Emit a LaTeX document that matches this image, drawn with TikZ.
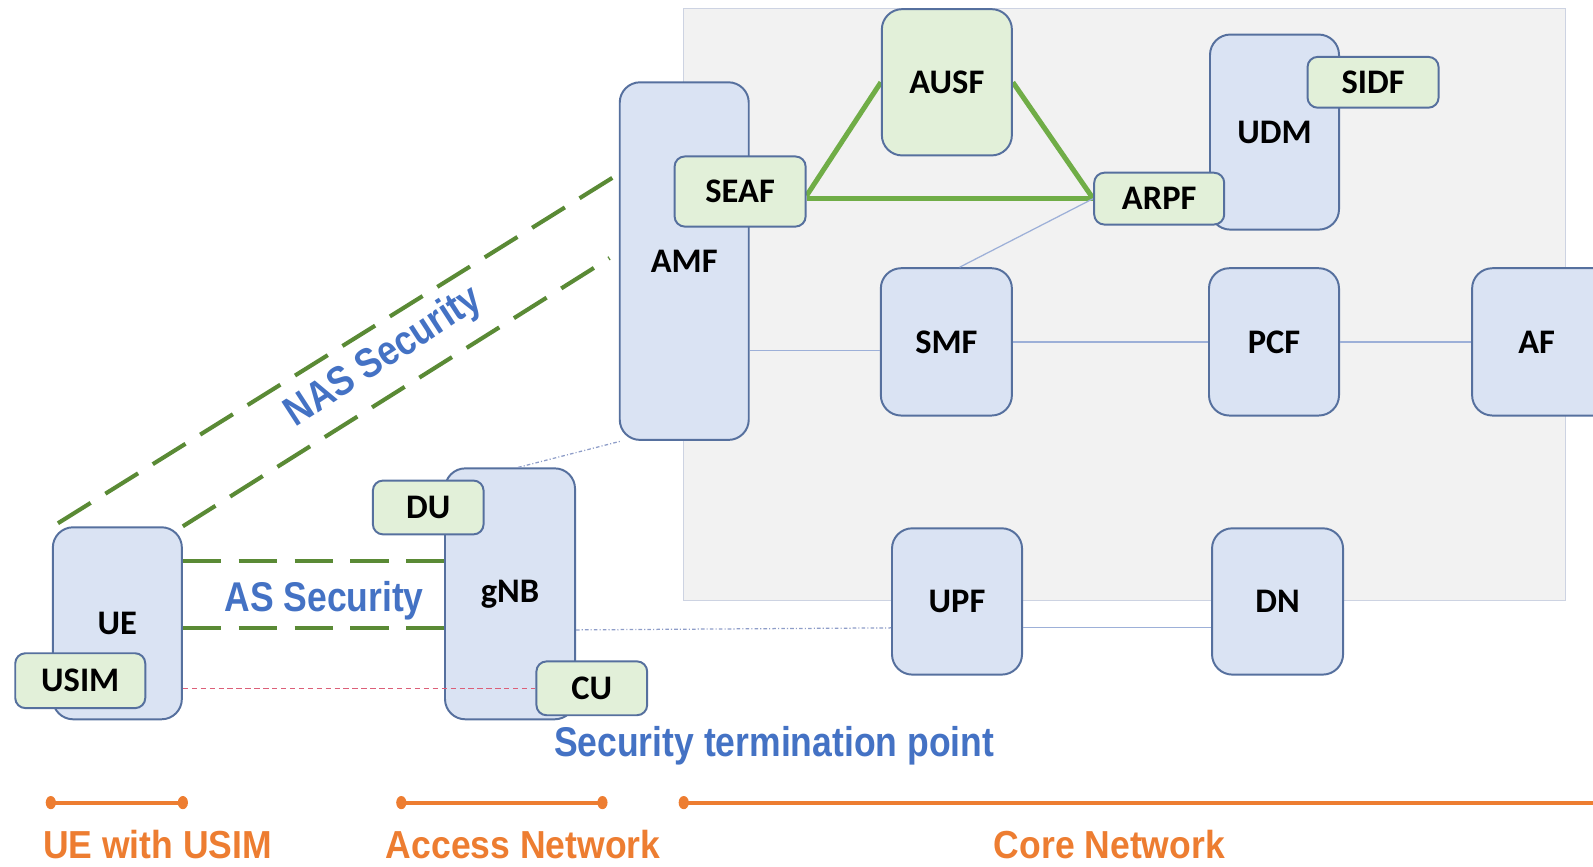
\documentclass[tikz,border=0pt]{standalone}
\usepackage{fontspec}
\setmainfont{Carlito}
\newfontfamily\labfont{Liberation Sans}
\usetikzlibrary{fit,calc}
\definecolor{nfblue}{HTML}{DAE3F3}
\definecolor{nfgreen}{HTML}{E2F0D9}
\definecolor{nfborder}{HTML}{56709E}
\definecolor{corebg}{HTML}{F2F2F2}
\definecolor{coreedge}{HTML}{CDD3E2}
\definecolor{authgreen}{HTML}{70AD47}
\definecolor{secgreen}{HTML}{5A8A35}
\definecolor{labblue}{HTML}{4472C4}
\definecolor{domorange}{HTML}{ED7D31}
\definecolor{linkblue}{HTML}{9DB0D8}
\definecolor{dotblue}{HTML}{8E9DC8}
\definecolor{termpink}{HTML}{DC5F78}
\pgfdeclarelayer{bg}
\pgfdeclarelayer{lines}
\pgfdeclarelayer{front}
\pgfsetlayers{bg,main,lines,front}
\begin{document}
\begin{tikzpicture}[x=0.02cm,y=-0.02cm,
  nftext/.style={font=\fontsize{19.3}{22}\selectfont\bfseries, inner sep=0pt},
  nf/.style={draw=nfborder, line width=1.1pt, inner sep=0pt},
  bluebox/.style={nf, fill=nfblue, rounded corners=0.4cm},
  greenbox/.style={nf, fill=nfgreen, rounded corners=0.2cm},
  lab/.style={font=\labfont\fontsize{19.9}{23}\selectfont\bfseries, text=labblue, inner sep=0pt},
  domlab/.style={font=\labfont\fontsize{19.9}{23}\selectfont\bfseries, text=domorange, inner sep=0pt},
  seclink/.style={secgreen, line width=2.3pt, dash pattern=on 21.6pt off 9.7pt},
  authlink/.style={authgreen, line width=2.8pt},
  nflink/.style={linkblue, line width=0.7pt},
  dotlink/.style={dotblue, line width=0.7pt, dash pattern=on 2pt off 1.2pt on 0.6pt off 1.2pt},
  termlink/.style={termpink, line width=0.8pt, dash pattern=on 3pt off 2pt},
  dombar/.style={domorange, line width=2.3pt}]
\useasboundingbox (0,0) rectangle (1568,853);

% core network area
\begin{pgfonlayer}{bg}
  \fill[corebg, draw=coreedge, line width=0.6pt] (673,8) rectangle (1541,591);
\end{pgfonlayer}

% network functions
\node[bluebox, fit={(610,81) (737,433)}, label={[nftext]center:AMF}] (amf) {};
\node[bluebox, fit={(1191,34) (1318,226)}, label={[nftext]center:UDM}] (udm) {};
\node[bluebox, fit={(867,264) (996,409)}, label={[nftext]center:SMF}] (smf) {};
\node[bluebox, fit={(1190,264) (1318,409)}, label={[nftext]center:PCF}] (pcf) {};
\node[bluebox, fit={(1449,264) (1590,409)}, label={[nftext, xshift=-0.14cm]center:AF}] (af) {};
\node[bluebox, fit={(878,520) (1006,664)}, label={[nftext]center:UPF}] (upf) {};
\node[bluebox, fit={(1193,520) (1322,664)}, label={[nftext]center:DN}] (dn) {};
\node[bluebox, fit={(438,461) (566,708)}, label={[nftext]center:gNB}] (gnb) {};
\node[bluebox, fit={(52,519) (179,708)}, label={[nftext]center:UE}] (ue) {};

\begin{pgfonlayer}{front}
  \node[greenbox, fit={(664,154) (793,223)}, label={[nftext]center:SEAF}] (seaf) {};
  \node[greenbox, rounded corners=0.4cm, fit={(868,9) (996,153)}, label={[nftext]center:AUSF}] (ausf) {};
  \node[greenbox, fit={(1287,56) (1416,106)}, label={[nftext]center:SIDF}] (sidf) {};
  \node[greenbox, fit={(1077,170) (1205,221)}, label={[nftext]center:ARPF}] (arpf) {};
  \node[greenbox, fit={(367,473) (476,526)}, label={[nftext]center:DU}] (du) {};
  \node[greenbox, fit={(528,651) (637,704)}, label={[nftext]center:CU}] (cu) {};
  \node[greenbox, fit={(15,643) (143,697)}, label={[nftext]center:USIM}] (usim) {};
\end{pgfonlayer}

\coordinate (nasA) at (606,173);
\coordinate (nasB) at (600,254);
\coordinate (asA) at (0,552);
\coordinate (asB) at (0,618);
\coordinate (hAmf) at (0,345);
\coordinate (hUp) at (0,618);
\coordinate (hRan) at (0,620);

\begin{pgfonlayer}{lines}
  % security associations
  \draw[seclink] ($(ue.north west)+(6,-3)$) -- (nasA);
  \draw[seclink] (ue.north east) -- (nasB);
  \draw[seclink] (ue.east |- asA) -- (gnb.west |- asA);
  \draw[seclink] (ue.east |- asB) -- (gnb.west |- asB);
  % authentication links
  \draw[authlink] ($(seaf.east)+(0,4)$) -- (ausf.west);
  \draw[authlink] (ausf.east) -- (arpf.west);
  \draw[authlink] (seaf.east |- arpf.west) -- (arpf.west);
  % service links
  \draw[nflink] (arpf.west) -- ($(smf.north)+(13,0)$);
  \draw[nflink] (amf.east |- hAmf) -- (smf.west |- hAmf);
  \draw[nflink] (smf.east) -- (pcf.west);
  \draw[nflink] (pcf.east) -- (af.west);
  \draw[nflink] ($(smf.south)+(4,0)$) -- ($(smf.south)+(4,0)$ |- upf.north);
  \draw[nflink] (upf.east |- hUp) -- (dn.west |- hUp);
  % RAN links
  \draw[dotlink] ($(gnb.north)+(8,0)$) -- ($(amf.south west)+(3,0)$);
  \draw[dotlink] (gnb.east |- hRan) -- (upf.west |- hUp);
  % termination points
  \draw[termlink] (ue.east |- cu.west) -- (cu.west);
\end{pgfonlayer}

% labels
\node[lab, rotate=33] (naslab) at (378,352) {\scalebox{1}[1.17]{NAS Security}};
\node[lab] (aslab) at (319,591) {\scalebox{1}[1.17]{AS Security}};
\node[lab] (termlab) at (762,734) {\scalebox{1}[1.17]{Security termination point}};

% domain bars
\draw[dombar] (50,790) -- (180,790);
\fill[domorange] (50,790) ellipse (5 and 6.5) (180,790) ellipse (5 and 6.5);
\draw[dombar] (395,790) -- (593,790);
\fill[domorange] (395,790) ellipse (5 and 6.5) (593,790) ellipse (5 and 6.5);
\draw[dombar] (673,790) -- (1580,790);
\fill[domorange] (673,790) ellipse (5 and 6.5);
\node[domlab] (uedom) at (155,831) {\scalebox{1}[1.1]{UE with USIM}};
\node[domlab] (andom) at (515,831) {\scalebox{1}[1.1]{Access Network}};
\node[domlab] (cndom) at (1092,831) {\scalebox{1}[1.1]{Core Network}};
\end{tikzpicture}
\end{document}
